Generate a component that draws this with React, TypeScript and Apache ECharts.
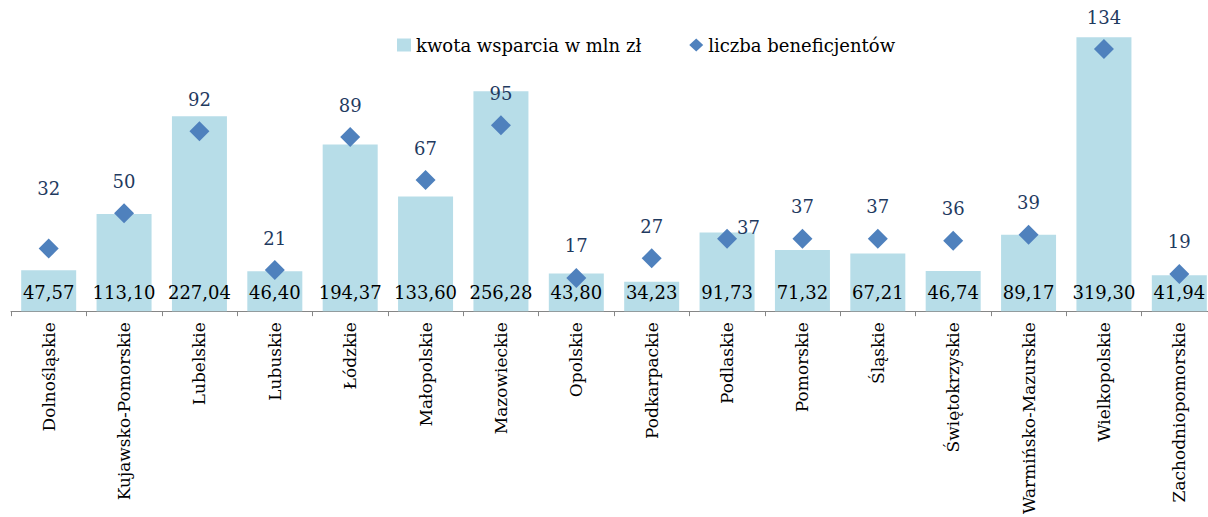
import React, { useEffect, useRef } from "react";
import * as echarts from "echarts";

const categories = [
  "Dolnośląskie",
  "Kujawsko-Pomorskie",
  "Lubelskie",
  "Lubuskie",
  "Łódzkie",
  "Małopolskie",
  "Mazowieckie",
  "Opolskie",
  "Podkarpackie",
  "Podlaskie",
  "Pomorskie",
  "Śląskie",
  "Świętokrzyskie",
  "Warmińsko-Mazurskie",
  "Wielkopolskie",
  "Zachodniopomorskie",
];

const kwotaWsparcia = [
  47.57, 113.1, 227.04, 46.4, 194.37, 133.6, 256.28, 43.8, 34.23, 91.73, 71.32,
  67.21, 46.74, 89.17, 319.3, 41.94,
];

const liczbaBeneficjentow = [
  32, 50, 92, 21, 89, 67, 95, 17, 27, 37, 37, 37, 36, 39, 134, 19,
];

const seriesNames = ["kwota wsparcia w mln zł", "liczba beneficjentów"];

const FONT = "'DejaVu Serif', serif";

export default function App() {
  const ref = useRef<HTMLDivElement>(null);

  useEffect(() => {
    if (!ref.current) return;
    const chart = echarts.init(ref.current, null, { renderer: "svg" });

    const scatterData = liczbaBeneficjentow.map((v, i) => {
      if (i === 0) {
        return { value: v, label: { distance: 41 } };
      }
      if (i === 9) {
        return {
          value: v,
          label: { position: "right", distance: 0, offset: [0, -11] },
        };
      }
      return { value: v };
    });

    chart.setOption({
      animation: false,
      backgroundColor: "#ffffff",
      legend: {
        top: 31,
        left: 392,
        itemWidth: 14,
        itemHeight: 13,
        itemGap: 48,
        textStyle: { fontFamily: FONT, fontSize: 18, color: "#000" },
        data: [
          { name: seriesNames[0], icon: "rect" },
          { name: seriesNames[1], icon: "diamond" },
        ],
      },
      grid: { left: 11, width: 1206, top: 10, height: 303 },
      xAxis: {
        type: "category",
        data: categories,
        boundaryGap: true,
        axisLine: { show: true, lineStyle: { color: "#868686", width: 1 } },
        axisTick: { show: true, length: 5, lineStyle: { color: "#868686" } },
        axisLabel: {
          rotate: 90,
          interval: 0,
          margin: 11,
          fontFamily: FONT,
          fontSize: 17,
          color: "#000",
        },
      },
      yAxis: [
        { type: "value", min: 0, max: 351, show: false },
        { type: "value", min: 0, max: 154, show: false },
      ],
      series: [
        {
          name: seriesNames[0],
          type: "bar",
          yAxisIndex: 0,
          barWidth: 55,
          data: kwotaWsparcia,
          itemStyle: { color: "#B7DDE8" },
          label: {
            show: true,
            position: "insideBottom",
            distance: 10,
            fontFamily: FONT,
            fontSize: 18,
            color: "#000",
            formatter: (p: any) => p.value.toFixed(2).replace(".", ","),
          },
        },
        {
          name: seriesNames[1],
          type: "scatter",
          yAxisIndex: 1,
          symbol: "diamond",
          symbolSize: 20,
          data: scatterData,
          itemStyle: { color: "#4F81BD", opacity: 1 },
          label: {
            show: true,
            position: "top",
            distance: 13,
            fontFamily: FONT,
            fontSize: 18,
            color: "#1F3A5F",
          },
          z: 5,
        },
      ],
    });

    return () => chart.dispose();
  }, []);

  return (
    <div
      ref={ref}
      style={{ position: "fixed", left: 0, top: 0, width: 1222, height: 517 }}
    />
  );
}
